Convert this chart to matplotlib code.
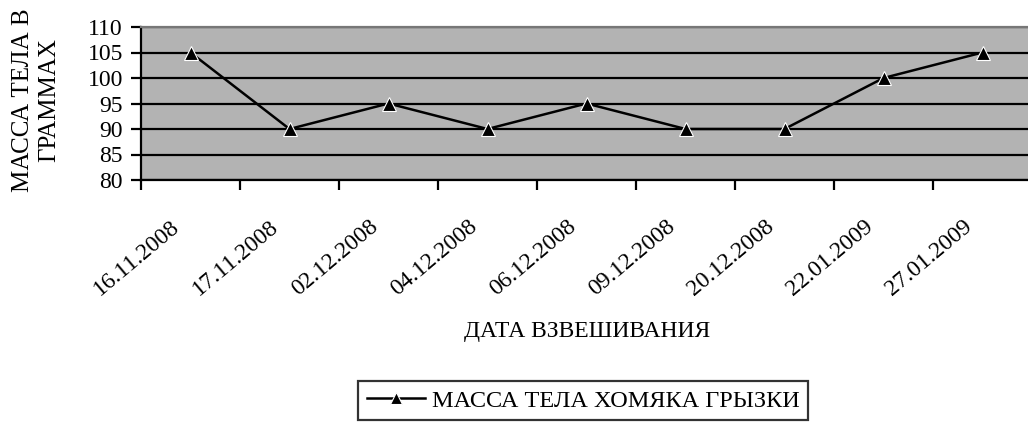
import matplotlib
matplotlib.use("Agg")
import matplotlib.pyplot as plt
from matplotlib.lines import Line2D
from matplotlib.transforms import ScaledTranslation

# --- Dados ---
dates = ["16.11.2008", "17.11.2008", "02.12.2008", "04.12.2008", "06.12.2008",
         "09.12.2008", "20.12.2008", "22.01.2009", "27.01.2009"]
mass = [105, 90, 95, 90, 95, 90, 90, 100, 105]
y_ticks = [80, 85, 90, 95, 100, 105, 110]

plt.rcParams['font.family'] = ['Liberation Serif', 'DejaVu Serif']

W, H = 1028, 422
fig = plt.figure(figsize=(W / 100, H / 100), dpi=100)
left, right, top, bottom = 141, 1032, 27, 180
ax = fig.add_axes([left / W, 1 - bottom / H, (right - left) / W, (bottom - top) / H])
ax.set_facecolor('#b3b3b3')

x = list(range(len(dates)))
ax.plot(x, mass, color='black', lw=1.8, marker='^', markersize=10,
        markerfacecolor='black', markeredgecolor='white', markeredgewidth=0.8, zorder=3)

ax.set_xlim(-0.5, len(dates) - 0.5)
ax.set_ylim(80, 110)
ax.set_yticks(y_ticks)
ax.yaxis.grid(True, color='black', lw=1.6)
ax.set_axisbelow(True)

# ticks de fronteira entre categorias, rótulos no centro
ax.set_xticks([i - 0.5 for i in range(len(dates))])
ax.set_xticklabels([])
ax.set_xticks(x, minor=True)
ax.set_xticklabels(dates, minor=True, rotation=40, ha='right', va='top',
                   rotation_mode='anchor', fontsize=17)
ax.tick_params(axis='x', which='minor', length=0, pad=0)
for lab in ax.get_xticklabels(minor=True):
    lab.set_transform(lab.get_transform() + ScaledTranslation(-0.20, -0.36, fig.dpi_scale_trans))
ax.tick_params(axis='x', which='major', length=7, width=1.6, direction='out')
ax.tick_params(axis='y', length=7, width=1.6, labelsize=17, pad=6)

for s in ['left', 'bottom']:
    ax.spines[s].set_color('black')
    ax.spines[s].set_linewidth(1.6)
ax.spines['top'].set_color('#777777')
ax.spines['top'].set_linewidth(1.6)
ax.spines['right'].set_visible(False)

fig.text(587 / W, 1 - 331 / H, "ДАТА ВЗВЕШИВАНИЯ", ha='center', va='center', fontsize=17)
fig.text(36 / W, 1 - 100 / H, "МАССА ТЕЛА В\nГРАММАХ", ha='center', va='center',
         rotation=90, fontsize=18, linespacing=1.25)

handle = Line2D([], [], color='black', lw=1.8, marker='^', markersize=9,
                markerfacecolor='black', markeredgecolor='white', markeredgewidth=0.8)
leg = fig.legend([handle], ["МАССА ТЕЛА ХОМЯКА ГРЫЗКИ"], loc='upper left',
                 bbox_to_anchor=(358 / W, 1 - 381 / H), borderaxespad=0,
                 fontsize=17.5, frameon=True, fancybox=False, borderpad=0.35,
                 handlelength=2.4, handletextpad=0.3)
leg.get_frame().set_edgecolor('black')
leg.get_frame().set_linewidth(1.6)

fig.savefig("out.png", dpi=100)
